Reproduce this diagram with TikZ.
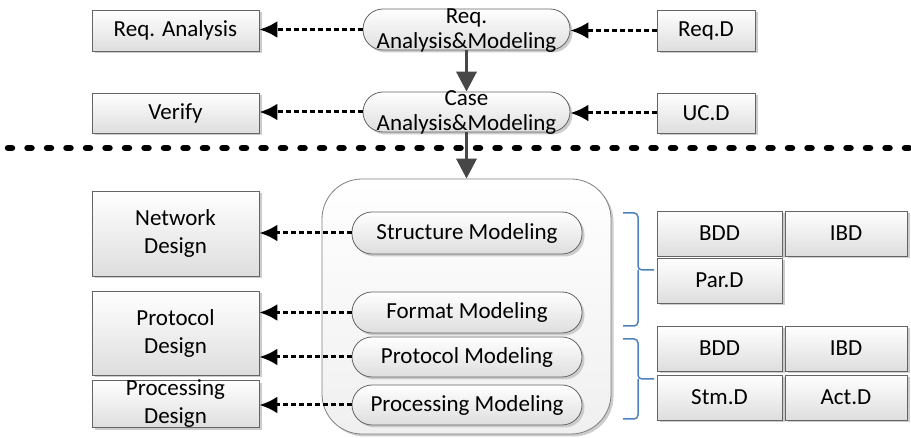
\documentclass[tikz,border=0pt]{standalone}
\usepackage{fontspec}
\setmainfont{Carlito}
\usetikzlibrary{arrows.meta,shadows}
\definecolor{bracketblue}{RGB}{79,129,189}
\definecolor{edgegray}{RGB}{100,100,100}
\tikzset{
  base/.style={draw=edgegray, line width=0.8pt, top color=white, bottom color=black!13,
    drop shadow={shadow xshift=2.5pt, shadow yshift=-2.5pt, fill=black!20, opacity=1},
    inner sep=0pt, align=center, font=\fontsize{23}{28}\selectfont},
  box/.style={base, rectangle},
  pill/.style={base, rectangle, rounded corners=20pt},
  bigbox/.style={base, rectangle, rounded corners=40pt, draw=black!50, bottom color=black!6},
  lbl/.style={inner sep=0pt, align=center, font=\fontsize{23}{25}\selectfont},
  dotarrow/.style={-{Latex[length=18pt,width=17pt]}, line width=3pt, dash pattern=on 5pt off 3pt},
  flow/.style={-{Triangle[length=20pt,width=20pt]}, line width=3.5pt, draw=black!72},
  brace/.style={draw=bracketblue, line width=1.5pt, rounded corners=4pt},
  sep/.style={line width=6.5pt, line cap=round, dash pattern=on 4pt off 15.5pt},
}
\begin{document}
\begin{tikzpicture}[x=1pt,y=-1pt]
\useasboundingbox (0,0) rectangle (911,438);
% top rows
\node[box, minimum width=167pt, minimum height=41pt] (ra) at (175.5,30.5) {Req. Analysis};
\node[pill, minimum width=207pt, minimum height=41pt] (ram) at (466.5,29.5) {};
\node[lbl] (ramt) at (466.5,31) {Req.\\Analysis\&Modeling};
\node[box, minimum width=98pt, minimum height=41pt] (rd) at (706,30.5) {Req.D};
\node[box, minimum width=167pt, minimum height=40pt] (v) at (175.5,113) {Verify};
\node[pill, minimum width=207pt, minimum height=40pt] (cam) at (466.5,112) {};
\node[lbl] (camt) at (466.5,113) {Case\\Analysis\&Modeling};
\node[box, minimum width=98pt, minimum height=40pt] (ucd) at (706,113) {UC.D};
% separator
\coordinate (sepL) at (8,148);
\coordinate (sepR) at (911,148);
\draw[sep] (sepL) -- (sepR);
% big container
\node[bigbox, minimum width=289pt, minimum height=255pt] (big) at (466.5,306.5) {};
\node[pill, minimum width=230pt, minimum height=42pt] (sm) at (467,233) {Structure Modeling};
\node[pill, minimum width=230pt, minimum height=41pt] (fm) at (467,312.5) {Format Modeling};
\node[pill, minimum width=230pt, minimum height=40pt] (pm) at (467,357) {Protocol Modeling};
\node[pill, minimum width=230pt, minimum height=40pt] (prm) at (467,405) {Processing Modeling};
% left design boxes
\node[box, minimum width=167pt, minimum height=85pt] (nd) at (175.5,233.5) {Network\\Design};
\node[box, minimum width=167pt, minimum height=84pt] (pd) at (175.5,333) {Protocol\\Design};
\node[box, minimum width=167pt, minimum height=46pt] (prd) at (175.5,404) {Processing\\Design};
% right diagram boxes
\node[box, minimum width=125pt, minimum height=45pt] (bdda) at (719.5,233.5) {BDD};
\node[box, minimum width=122pt, minimum height=45pt] (ibda) at (846,233.5) {IBD};
\node[box, minimum width=125pt, minimum height=45pt] (pard) at (719.5,280.5) {Par.D};
\node[box, minimum width=125pt, minimum height=45pt] (bddb) at (719.5,348.5) {BDD};
\node[box, minimum width=122pt, minimum height=45pt] (ibdb) at (846,348.5) {IBD};
\node[box, minimum width=125pt, minimum height=45pt] (stmd) at (719.5,397.5) {Stm.D};
\node[box, minimum width=122pt, minimum height=45pt] (actd) at (846,397.5) {Act.D};
% braces
\draw[brace] (623,213) -- (638,213) -- (638,270) -- (654,270);
\draw[brace] (638,270) -- (638,326) -- (623,326);
\draw[brace] (623,339) -- (638,339) -- (638,379) -- (654,379);
\draw[brace] (638,379) -- (638,419) -- (623,419);
% connectors
\draw[dotarrow] (ram.west) -- (ram.west -| ra.east);
\draw[dotarrow] (rd.west) -- (rd.west -| ram.east);
\draw[dotarrow] (cam.west) -- (cam.west -| v.east);
\draw[dotarrow] (ucd.west) -- (ucd.west -| cam.east);
\draw[dotarrow] (sm.west) -- (sm.west -| nd.east);
\draw[dotarrow] (fm.west) -- (fm.west -| pd.east);
\draw[dotarrow] (pm.west) -- (pm.west -| pd.east);
\draw[dotarrow] (prm.west) -- (prm.west -| prd.east);
\draw[flow] (ram.south) -- (cam.north);
\draw[flow] (cam.south) -- (big.north);
\end{tikzpicture}
\end{document}
